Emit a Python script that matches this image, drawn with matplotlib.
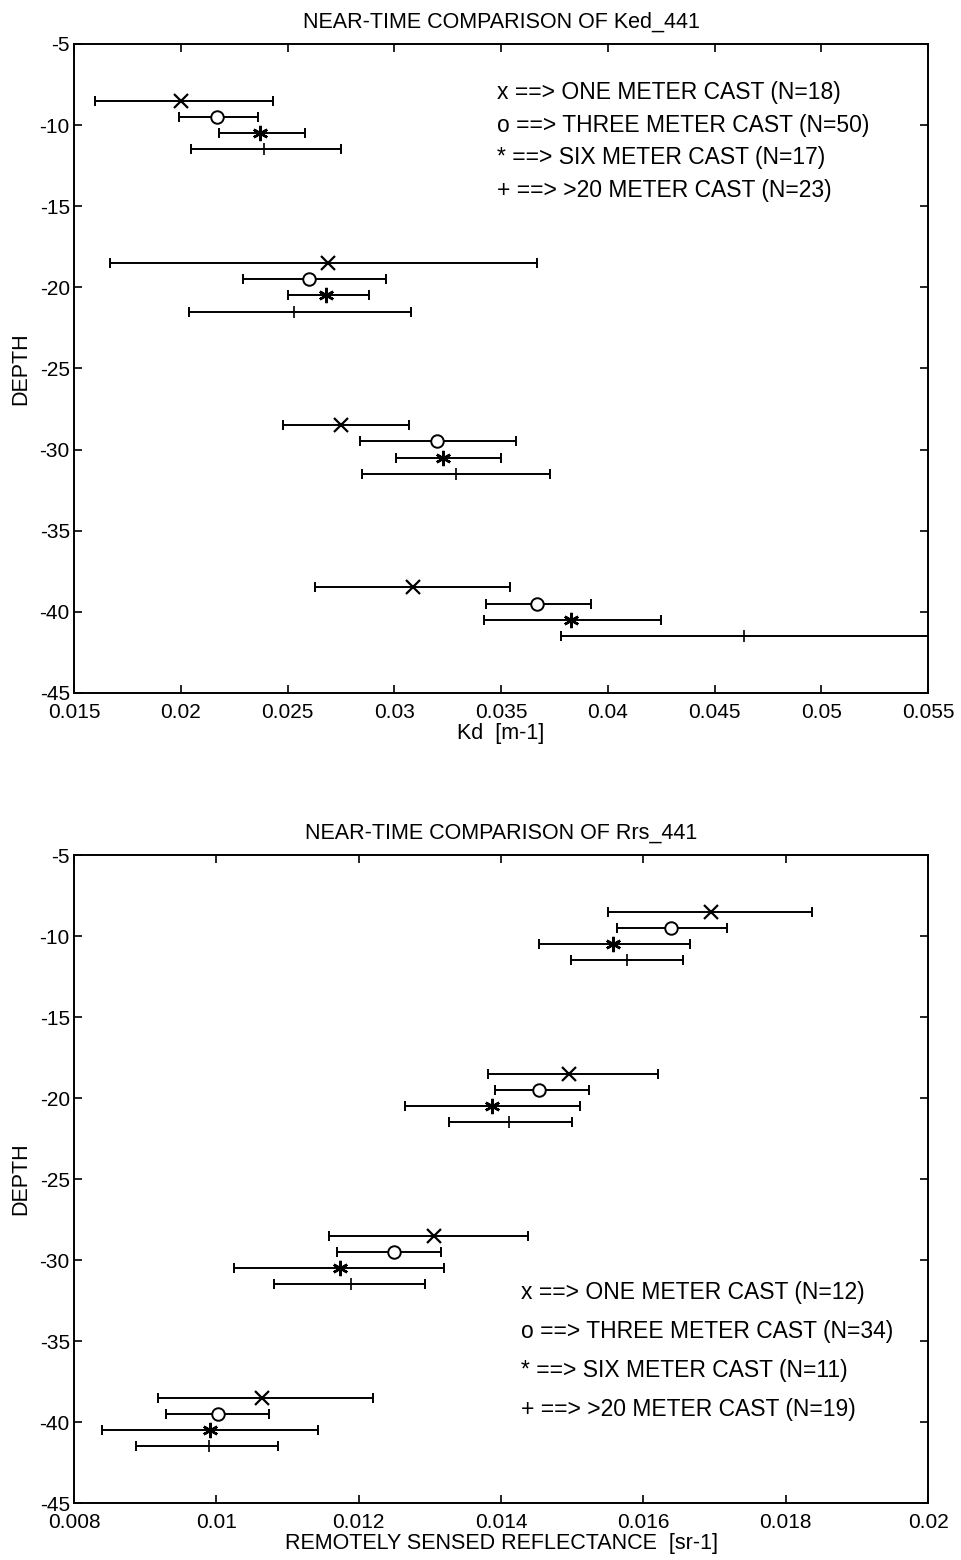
import matplotlib.pyplot as plt

plt.rcParams['font.family'] = ['Liberation Sans', 'DejaVu Sans']
plt.rcParams['axes.unicode_minus'] = False

# depth rows for each cast type (x, o, *, +)
depth_rows = [[-8.5, -9.5, -10.5, -11.5],
              [-18.5, -19.5, -20.5, -21.5],
              [-28.5, -29.5, -30.5, -31.5],
              [-38.5, -39.5, -40.5, -41.5]]
cast_names = ["ONE METER CAST", "THREE METER CAST", "SIX METER CAST", ">20 METER CAST"]
cast_symbols = ["x", "o", "*", "+"]

# Ked_441 : center, low, high per depth group, per cast
kd_n = [18, 50, 17, 23]
kd_mid = [[0.0200, 0.0217, 0.0237, 0.0239],
          [0.0269, 0.0260, 0.0268, 0.0253],
          [0.0275, 0.0320, 0.0323, 0.0329],
          [0.0309, 0.0367, 0.0383, 0.0464]]
kd_low = [[0.0160, 0.0199, 0.0218, 0.0205],
          [0.0167, 0.0229, 0.0250, 0.0204],
          [0.0248, 0.0284, 0.0301, 0.0285],
          [0.0263, 0.0343, 0.0342, 0.0378]]
kd_high = [[0.0243, 0.0236, 0.0258, 0.0275],
           [0.0367, 0.0296, 0.0288, 0.0308],
           [0.0307, 0.0357, 0.0350, 0.0373],
           [0.0354, 0.0392, 0.0425, 0.0560]]

# Rrs_441
rrs_n = [12, 34, 11, 19]
rrs_mid = [[0.01695, 0.01639, 0.01557, 0.01577],
           [0.01495, 0.01454, 0.01387, 0.01411],
           [0.01306, 0.01250, 0.01174, 0.01189],
           [0.01064, 0.01002, 0.00991, 0.00989]]
rrs_low = [[0.01551, 0.01563, 0.01453, 0.01499],
           [0.01382, 0.01392, 0.01265, 0.01327],
           [0.01158, 0.01169, 0.01025, 0.01081],
           [0.00918, 0.00929, 0.00840, 0.00887]]
rrs_high = [[0.01837, 0.01718, 0.01665, 0.01655],
            [0.01620, 0.01524, 0.01511, 0.01500],
            [0.01438, 0.01316, 0.01320, 0.01293],
            [0.01220, 0.01074, 0.01143, 0.01087]]

kd_ticks = [0.015, 0.02, 0.025, 0.03, 0.035, 0.04, 0.045, 0.05, 0.055]
rrs_ticks = [0.008, 0.01, 0.012, 0.014, 0.016, 0.018, 0.02]
depth_ticks = [-45, -40, -35, -30, -25, -20, -15, -10, -5]

marker_style = {"x": dict(marker="x", ms=10, mew=1.6),
                "o": dict(marker="o", ms=9, mew=1.4, mfc="white"),
                "*": dict(marker=(6, 2, 0), ms=11, mew=1.8),
                "+": dict(marker="|", ms=8, mew=1.2)}

def panel(ax, mid, low, high, ns, ticks, xlabel, title, leg_x, leg_y):
    for g in range(4):
        for c in range(4):
            m = mid[g][c]
            ax.errorbar([m], [depth_rows[g][c]],
                        xerr=[[m - low[g][c]], [high[g][c] - m]],
                        fmt="none", ecolor="black", elinewidth=1.4,
                        capsize=3.5, capthick=1.4)
            ax.plot([m], [depth_rows[g][c]], color="black", ls="none",
                    **marker_style[cast_symbols[c]])
    for c in range(4):
        ax.text(leg_x, leg_y[c], "%s ==> %s (N=%d)" % (cast_symbols[c], cast_names[c], ns[c]),
                fontsize=16.5, va="center", ha="left")
    ax.set_xlim(ticks[0], ticks[-1])
    ax.set_ylim(-45, -5)
    ax.set_xticks(ticks)
    ax.set_xticklabels(["%g" % t for t in ticks])
    ax.set_yticks(depth_ticks)
    ax.set_yticklabels(["%d" % t for t in depth_ticks])
    ax.tick_params(direction="in", top=True, right=True, length=6, width=1.2, labelsize=15)
    ax.tick_params(axis="x", pad=7)
    ax.tick_params(axis="y", pad=3)
    for s in ax.spines.values():
        s.set_linewidth(1.4)
    ax.set_xlabel(xlabel, fontsize=15.5, labelpad=1)
    ax.set_ylabel("DEPTH", fontsize=15.5, labelpad=6)
    ax.set_title(title, fontsize=15.5, pad=12)

fig = plt.figure(figsize=(9.61, 15.6), dpi=100)
ax1 = fig.add_axes([0.077, 0.5558, 0.8887, 0.416])
ax2 = fig.add_axes([0.077, 0.0365, 0.8887, 0.4154])

panel(ax1, kd_mid, kd_low, kd_high, kd_n, kd_ticks, "Kd  [m-1]",
      "NEAR-TIME COMPARISON OF Ked_441", 0.0348, [-8.0, -10.0, -12.0, -14.0])
panel(ax2, rrs_mid, rrs_low, rrs_high, rrs_n, rrs_ticks, "REMOTELY SENSED REFLECTANCE  [sr-1]",
      "NEAR-TIME COMPARISON OF Rrs_441", 0.01428, [-32.0, -34.4, -36.8, -39.2])

plt.savefig("out.png", dpi=100)
